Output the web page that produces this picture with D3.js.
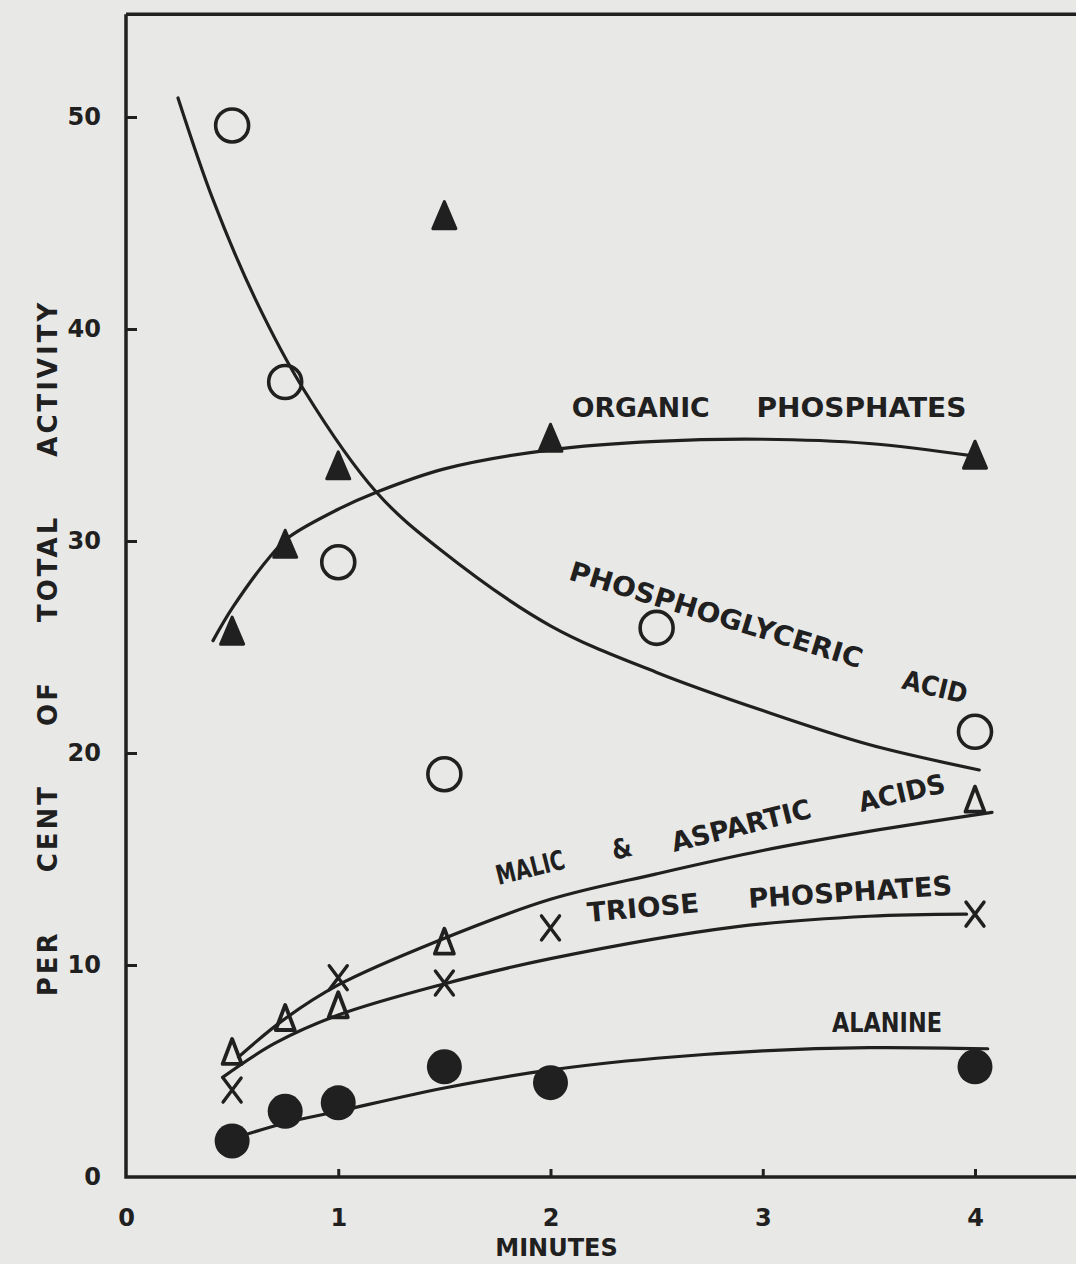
<!DOCTYPE html>
<html>
<head>
<meta charset="utf-8">
<script src="https://cdn.jsdelivr.net/npm/d3@7/dist/d3.min.js"></script>
<style>
  html, body { margin: 0; padding: 0; background: #e8e8e6; }
  svg { display: block; }
  text { font-family: "DejaVu Sans", sans-serif; font-weight: bold; fill: #202020; }
</style>
</head>
<body>
<svg id="chart" width="1076" height="1264"></svg>
<script>
// values (minutes, per cent of total activity)
const pgaMin = [0.5, 0.75, 1, 1.5, 2.5, 4];
const pgaVal = [49.6, 37.5, 29.0, 19.0, 25.9, 21.0];
const orgMin = [0.5, 0.75, 1, 1.5, 2, 4];
const orgVal = [25.7, 29.8, 33.5, 45.3, 34.8, 34.0];
const malMin = [0.5, 0.75, 1, 1.5, 4];
const malVal = [5.9, 7.5, 8.1, 11.1, 17.8];
const triMin = [0.5, 1, 1.5, 2, 4];
const triVal = [4.1, 9.4, 9.15, 11.75, 12.4];
const alaMin = [0.5, 0.75, 1, 1.5, 2, 4];
const alaVal = [1.7, 3.1, 3.5, 5.2, 4.45, 5.2];

// hand fitted curves
const pgaFitMin = [0.245, 0.41, 0.61, 0.84, 1.18, 1.48, 2.0, 2.5, 3.0, 3.5, 4.02];
const pgaFitVal = [50.9, 46.1, 41.4, 37.1, 32.3, 29.6, 26.0, 23.8, 22.0, 20.4, 19.2];
const orgFitMin = [0.41, 0.505, 0.69, 0.77, 1.0, 1.18, 1.5, 2.0, 2.5, 3.0, 3.5, 4.0];
const orgFitVal = [25.3, 26.9, 29.4, 30.2, 31.5, 32.3, 33.4, 34.3, 34.7, 34.8, 34.6, 34.0];
const malFitMin = [0.53, 0.74, 1.0, 1.46, 2.0, 2.5, 3.0, 3.5, 4.08];
const malFitVal = [5.66, 7.4, 9.06, 11.1, 13.1, 14.3, 15.4, 16.3, 17.2];
const triFitMin = [0.455, 0.7, 1.0, 1.48, 2.0, 2.87, 3.5, 3.96];
const triFitVal = [4.7, 6.3, 7.64, 9.06, 10.3, 11.8, 12.3, 12.4];
const alaFitMin = [0.5, 0.75, 1.0, 1.5, 2.0, 2.5, 3.0, 3.5, 4.06];
const alaFitVal = [1.8, 2.55, 3.1, 4.2, 5.05, 5.6, 5.95, 6.1, 6.05];

const xTicks = [0, 1, 2, 3, 4];
const yTicks = [0, 10, 20, 30, 40, 50];
const xTitle = 'MINUTES';
const yTitle = 'PER CENT OF TOTAL ACTIVITY';
const labelOrganic = ['ORGANIC', 'PHOSPHATES'];
const labelPga = ['PHOSPHOGLYCERIC', 'ACID'];
const labelMalic = ['MALIC', '&', 'ASPARTIC', 'ACIDS'];
const labelTriose = ['TRIOSE', 'PHOSPHATES'];
const labelAlanine = ['ALANINE'];

const ink = '#202020';
const svg = d3.select('#chart');

const x = d3.scaleLinear().domain([0, 4]).range([126, 975]);
const y = d3.scaleLinear().domain([0, 50]).range([1177, 117]);

/*框线*/
const frame = svg.append('g').attr('stroke', ink).attr('stroke-width', 3.5).attr('fill', 'none');
frame.append('path')
  .attr('d', d3.line()([[x(0), y(54.85)], [x(0), y(0)], [1076, y(0)]]));
frame.append('path')
  .attr('d', d3.line()([[x(0), y(54.85)], [1076, y(54.85)]]));

/*坐标轴*/
const xAxis = svg.append('g')
  .attr('transform', `translate(0,${y(0)})`)
  .call(d3.axisBottom(x).tickValues(xTicks).tickSize(-8).tickSizeOuter(0).tickPadding(32).tickFormat(d3.format('d')));
const yAxis = svg.append('g')
  .attr('transform', `translate(${x(0)},0)`)
  .call(d3.axisLeft(y).tickValues(yTicks).tickSize(-11).tickSizeOuter(0).tickPadding(25).tickFormat(d3.format('d')));
[xAxis, yAxis].forEach(a => {
  a.select('.domain').remove();
  a.selectAll('line').attr('stroke', ink).attr('stroke-width', 3);
  a.selectAll('text').attr('fill', ink).style('font-size', '24px')
    .style('font-family', '"DejaVu Sans", sans-serif').style('font-weight', 'bold');
});
xAxis.selectAll('.tick').filter(d => d === 0).select('line').remove();
yAxis.selectAll('.tick').filter(d => d === 0).select('line').remove();

svg.append('text')
  .attr('x', x(2) + 6).attr('y', 1256)
  .attr('text-anchor', 'middle')
  .style('font-size', '24px')
  .text(xTitle);

svg.append('text')
  .attr('transform', 'translate(57,648) rotate(-90)')
  .attr('text-anchor', 'middle')
  .style('font-size', '26px')
  .style('letter-spacing', '3px')
  .style('word-spacing', '46px')
  .text(yTitle);

/*拟合曲线*/
const line = d3.line()
  .x(d => x(d[0]))
  .y(d => y(d[1]))
  .curve(d3.curveCatmullRom.alpha(0.5));
const zip = (a, b) => a.map((v, i) => [v, b[i]]);
const fits = [
  zip(pgaFitMin, pgaFitVal),
  zip(orgFitMin, orgFitVal),
  zip(malFitMin, malFitVal),
  zip(triFitMin, triFitVal),
  zip(alaFitMin, alaFitVal)
];
svg.append('g').selectAll('path')
  .data(fits)
  .enter()
  .append('path')
  .attr('d', line)
  .attr('fill', 'none')
  .attr('stroke', ink)
  .attr('stroke-width', 3.2)
  .attr('stroke-linecap', 'round');

/*数据点*/
function place(sel) {
  return sel.attr('transform', d => `translate(${x(d[0])},${y(d[1])})`);
}
const pts = svg.append('g');

place(pts.selectAll('.pga').data(zip(pgaMin, pgaVal)).enter().append('circle').attr('class', 'pga'))
  .attr('r', 16.5).attr('fill', 'none').attr('stroke', ink).attr('stroke-width', 3.6);

place(pts.selectAll('.org').data(zip(orgMin, orgVal)).enter().append('path').attr('class', 'org'))
  .attr('d', 'M0,-15 L11.5,12 L-11.5,12 Z')
  .attr('fill', ink).attr('stroke', ink).attr('stroke-width', 3).attr('stroke-linejoin', 'round');

place(pts.selectAll('.mal').data(zip(malMin, malVal)).enter().append('path').attr('class', 'mal'))
  .attr('d', 'M0,-13 L9.5,12 L-9.5,12 Z')
  .attr('fill', 'none').attr('stroke', ink).attr('stroke-width', 3.8).attr('stroke-linejoin', 'round');

place(pts.selectAll('.tri').data(zip(triMin, triVal)).enter().append('path').attr('class', 'tri'))
  .attr('d', 'M-9,-12 L9,12 M9,-12 L-9,12')
  .attr('fill', 'none').attr('stroke', ink).attr('stroke-width', 3.4).attr('stroke-linecap', 'round');

place(pts.selectAll('.ala').data(zip(alaMin, alaVal)).enter().append('circle').attr('class', 'ala'))
  .attr('r', 17.5).attr('fill', ink);

/*曲线标注: 词, 起点(分钟, 值), 角度, 宽度*/
const words = [
  [labelOrganic[0], 2.10, 35.85, 0, 138],
  [labelOrganic[1], 2.97, 35.85, 0, 210],
  [labelPga[0], 2.08, 28.2, 17, 305],
  [labelPga[1], 3.65, 23.05, 13.5, 66],
  [labelMalic[0], 1.755, 13.77, -14, 70],
  [labelMalic[1], 2.30, 14.95, -14, 20],
  [labelMalic[2], 2.582, 15.33, -14, 143],
  [labelMalic[3], 3.463, 17.22, -13, 88],
  [labelTriose[0], 2.177, 12.03, -5, 112],
  [labelTriose[1], 2.935, 12.69, -3.7, 204],
  [labelAlanine[0], 3.326, 6.84, 0, 110]
];
svg.append('g').selectAll('text')
  .data(words)
  .enter()
  .append('text')
  .attr('transform', d => `translate(${x(d[1])},${y(d[2])}) rotate(${d[3]})`)
  .attr('textLength', d => d[4])
  .attr('lengthAdjust', 'spacingAndGlyphs')
  .style('font-size', '27px')
  .text(d => d[0]);
</script>
</body>
</html>
